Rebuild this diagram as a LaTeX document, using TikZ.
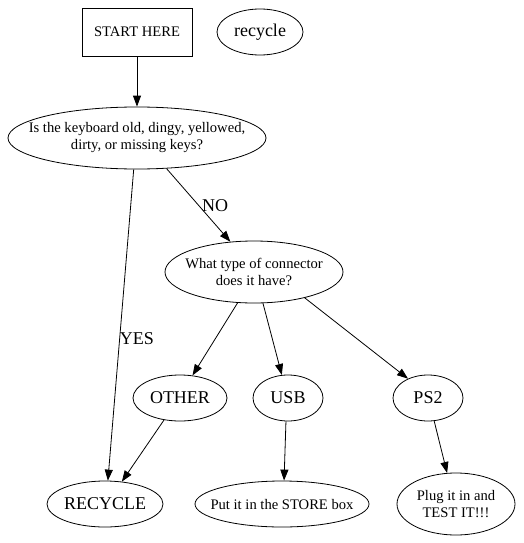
\documentclass[tikz,border=0pt]{standalone}
\usepackage{fontspec}
\setmainfont{Liberation Serif}
\usetikzlibrary{arrows.meta,shapes.geometric}
\begin{document}
\begin{tikzpicture}[x=1pt,y=-1pt,
  every node/.style={inner sep=0pt,align=center},
  small/.style={font=\fontsize{14.6}{17}\selectfont},
  big/.style={font=\fontsize{18}{21}\selectfont},
  oval/.style={draw,ellipse,line width=0.8pt},
  box/.style={draw,rectangle,line width=0.8pt},
  edge/.style={line width=0.8pt,-{Triangle[length=11pt,width=8pt]}}
]
\useasboundingbox (0,0) rectangle (523,543);
\fill[white] (0,0) rectangle (523,543);

\node[box,minimum width=110,minimum height=48,small] (start) at (137,32) {START HERE};
\node[oval,minimum width=86,minimum height=46,big] (recyc) at (260,32) {recycle};

\node[oval,minimum width=258,minimum height=62,
  label={[small]center:Is the keyboard old, dingy, yellowed,\\dirty, or missing keys?}] (q) at (137,138) {};
\node[oval,minimum width=178,minimum height=62,
  label={[small]center:What type of connector\\does it have?}] (conn) at (254,272) {};

\node[oval,minimum width=94,minimum height=46,big] (other) at (180,398) {OTHER};
\node[oval,minimum width=70,minimum height=46,big] (usb) at (288,398) {USB};
\node[oval,minimum width=70,minimum height=46,big] (ps2) at (428,398) {PS2};

\node[oval,minimum width=116,minimum height=46,big] (rec) at (105,504) {RECYCLE};
\node[oval,minimum width=174,minimum height=46,
  label={[small]center:Put it in the STORE box}] (store) at (282,504) {};
\node[oval,minimum width=118,minimum height=62,
  label={[small]center:Plug it in and\\TEST IT!!!}] (plug) at (456,504) {};

\draw[edge] (start.south) -- (q.north);
\draw[edge] (q.264) -- (rec.83);
\draw[edge] (q.314) -- (conn.128);
\draw[edge] (conn.242) -- (other.61);
\draw[edge] (conn.286) -- (usb.105);
\draw[edge] (conn.333) -- (ps2.136);
\draw[edge] (other.234) -- (rec.53);
\draw[edge] (usb.265) -- (store.85);
\draw[edge] (ps2.285) -- (plug.106);

\node[big] (yes) at (137,339) {YES};
\node[big] (no) at (215,206) {NO};
\end{tikzpicture}
\end{document}
